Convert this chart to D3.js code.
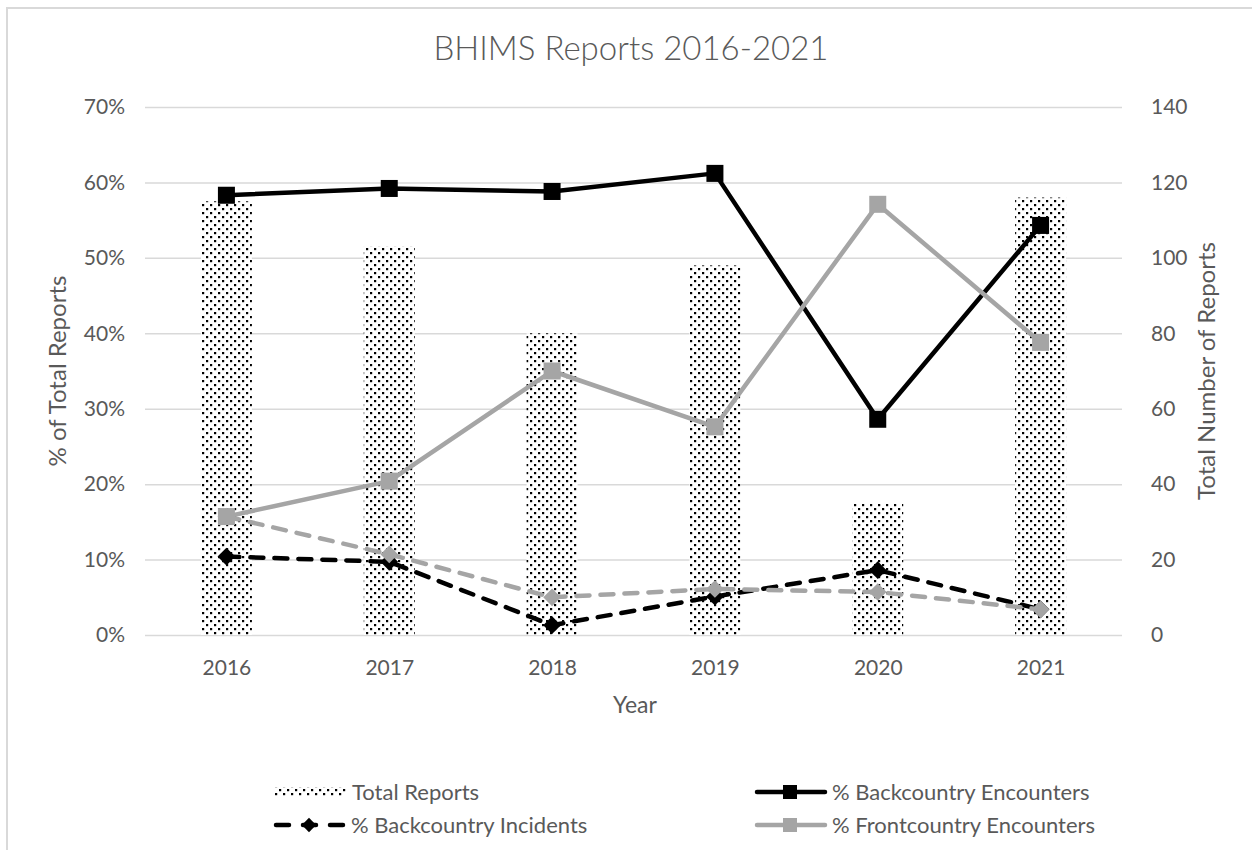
<!DOCTYPE html>
<html>
<head>
<meta charset="utf-8">
<script src="https://cdn.jsdelivr.net/npm/d3@7"></script>
<style>
  body { margin: 0; background: #fff; }
  text { font-family: Lato, "Open Sans", sans-serif; fill: #595959; }
</style>
</head>
<body>
<div id="chart"></div>
<script>
// data
var years = ["2016", "2017", "2018", "2019", "2020", "2021"];
var totalReports = [115, 103, 80, 98, 35, 116];
var backEncounters = [58.3, 59.2, 58.8, 61.2, 28.6, 54.3];
var backIncidents = [10.4, 9.7, 1.3, 5.1, 8.6, 3.4];
var frontEncounters = [15.7, 20.4, 35.0, 27.6, 57.1, 38.8];
var frontIncidents = [15.7, 10.7, 5.0, 6.1, 5.7, 3.4];
var pctTicks = [0, 10, 20, 30, 40, 50, 60, 70];
var countTicks = [0, 20, 40, 60, 80, 100, 120, 140];

var svgWidth = 1252, svgHeight = 850;
var margin = { top: 107, right: 130, bottom: 215, left: 145 };
var width = svgWidth - margin.left - margin.right;
var height = svgHeight - margin.top - margin.bottom;

var svg = d3.select("#chart").append("svg")
  .attr("width", svgWidth)
  .attr("height", svgHeight);

// dotted fill for the bars
var defs = svg.append("defs");
var pat = defs.append("pattern")
  .attr("id", "dots")
  .attr("patternUnits", "userSpaceOnUse")
  .attr("width", 8).attr("height", 8);
pat.append("rect").attr("width", 8).attr("height", 8).attr("fill", "#fff");
pat.append("rect").attr("x", 1).attr("y", 1).attr("width", 2.2).attr("height", 2.2).attr("fill", "#000");
pat.append("rect").attr("x", 5).attr("y", 5).attr("width", 2.2).attr("height", 2.2).attr("fill", "#000");

// chart border (only top and left visible in the crop)
svg.append("path")
  .attr("d", "M7,850 L7,8 L1252,8")
  .attr("fill", "none")
  .attr("stroke", "#d9d9d9")
  .attr("stroke-width", 2);

var chartGroup = svg.append("g")
  .attr("transform", `translate(${margin.left}, ${margin.top})`);

// scales
var xBand = d3.scaleBand().domain(years).range([0, width]).paddingInner(0.687).paddingOuter(0.3435);
var xPoint = d3.scalePoint().domain(years).range([0, width]).padding(0.5);
var yLeft = d3.scaleLinear().domain([0, 70]).range([height, 0]);
var yRight = d3.scaleLinear().domain([0, 140]).range([height, 0]);

// gridlines
chartGroup.append("g")
  .call(d3.axisLeft(yLeft).tickValues(pctTicks).tickSize(-width).tickFormat(""))
  .call(g => g.select(".domain").remove())
  .call(g => g.selectAll("line").attr("stroke", "#d9d9d9").attr("stroke-width", 1.5));

// left axis
chartGroup.append("g")
  .call(d3.axisLeft(yLeft).tickValues(pctTicks).tickSize(0).tickPadding(20).tickFormat(d => d + "%"))
  .call(g => g.select(".domain").remove())
  .call(g => g.selectAll("text").style("font-size", "21px").attr("fill", "#595959"));

// right axis
chartGroup.append("g")
  .attr("transform", `translate(${width}, 0)`)
  .call(d3.axisRight(yRight).tickValues(countTicks).tickSize(0).tickPadding(29))
  .call(g => g.select(".domain").remove())
  .call(g => g.selectAll("text").style("font-size", "21px").attr("fill", "#595959"));

// bottom axis
chartGroup.append("g")
  .attr("transform", `translate(0, ${height})`)
  .call(d3.axisBottom(xPoint).tickSize(0).tickPadding(25))
  .call(g => g.select(".domain").remove())
  .call(g => g.selectAll("text").style("font-size", "21px").attr("fill", "#595959"));

// bars
chartGroup.selectAll("rect.bar")
  .data(totalReports)
  .enter()
  .append("rect")
  .attr("class", "bar")
  .attr("x", (d, i) => xBand(years[i]))
  .attr("y", d => yRight(d))
  .attr("width", xBand.bandwidth())
  .attr("height", d => height - yRight(d))
  .attr("fill", "url(#dots)");

var line = d3.line()
  .x((d, i) => xPoint(years[i]))
  .y(d => yLeft(d));

var diamond = d3.symbol().type(d3.symbolDiamond2).size(200);

function drawSeries(values, color, dashed, marker) {
  chartGroup.append("path")
    .datum(values)
    .attr("d", line)
    .attr("fill", "none")
    .attr("stroke", color)
    .attr("stroke-width", 4.5)
    .attr("stroke-linecap", dashed ? "round" : "butt")
    .attr("stroke-linejoin", "round")
    .attr("stroke-dasharray", dashed ? "13,11" : null);

  if (marker == "square") {
    chartGroup.selectAll(null)
      .data(values)
      .enter()
      .append("rect")
      .attr("x", (d, i) => xPoint(years[i]) - 8.5)
      .attr("y", d => yLeft(d) - 8.5)
      .attr("width", 17)
      .attr("height", 17)
      .attr("fill", color);
  } else {
    chartGroup.selectAll(null)
      .data(values)
      .enter()
      .append("path")
      .attr("d", diamond)
      .attr("transform", (d, i) => `translate(${xPoint(years[i])}, ${yLeft(d)})`)
      .attr("fill", color);
  }
}

drawSeries(backEncounters, "#000", false, "square");
drawSeries(backIncidents, "#000", true, "diamond");
drawSeries(frontIncidents, "#a5a5a5", true, "diamond");
drawSeries(frontEncounters, "#a5a5a5", false, "square");

// title
svg.append("text")
  .attr("x", 631)
  .attr("y", 60)
  .attr("text-anchor", "middle")
  .style("font-size", "33px")
  .style("font-weight", 300)
  .text("BHIMS Reports 2016-2021");

// axis titles
svg.append("text")
  .attr("x", 635)
  .attr("y", 713)
  .attr("text-anchor", "middle")
  .style("font-size", "23px")
  .text("Year");

svg.append("text")
  .attr("transform", "translate(66, 371) rotate(-90)")
  .attr("text-anchor", "middle")
  .style("font-size", "24px")
  .text("% of Total Reports");

svg.append("text")
  .attr("transform", "translate(1215, 371) rotate(-90)")
  .attr("text-anchor", "middle")
  .style("font-size", "24px")
  .text("Total Number of Reports");

// legend
var legend = svg.append("g");
var legendItems = [
  { name: "Total Reports", x: 274, y: 792, kind: "bar" },
  { name: "% Backcountry Encounters", x: 755, y: 792, kind: "line", color: "#000", dashed: false },
  { name: "% Backcountry Incidents", x: 274, y: 825, kind: "line", color: "#000", dashed: true },
  { name: "% Frontcountry Encounters", x: 755, y: 825, kind: "line", color: "#a5a5a5", dashed: false }
];

legendItems.forEach(function(item) {
  var g = legend.append("g").attr("transform", `translate(${item.x}, ${item.y})`);
  if (item.kind == "bar") {
    g.append("rect")
      .attr("x", 0).attr("y", -5)
      .attr("width", 72).attr("height", 10)
      .attr("fill", "url(#dots)");
  } else if (item.dashed) {
    g.append("path")
      .attr("d", "M2,0 H70")
      .attr("stroke", item.color)
      .attr("stroke-width", 4.5)
      .attr("stroke-linecap", "round")
      .attr("stroke-dasharray", "13,14");
    g.append("path")
      .attr("d", d3.symbol().type(d3.symbolDiamond2).size(130))
      .attr("transform", "translate(35, 0)")
      .attr("fill", item.color);
  } else {
    g.append("path")
      .attr("d", "M2,0 H70")
      .attr("stroke", item.color)
      .attr("stroke-width", 4.5)
      .attr("stroke-linecap", "round");
    g.append("rect")
      .attr("x", 28).attr("y", -7)
      .attr("width", 14).attr("height", 14)
      .attr("fill", item.color);
  }
  g.append("text")
    .attr("x", item.kind == "bar" ? 78 : 77)
    .attr("y", 8)
    .style("font-size", "22px")
    .text(item.name);
});
</script>
</body>
</html>
